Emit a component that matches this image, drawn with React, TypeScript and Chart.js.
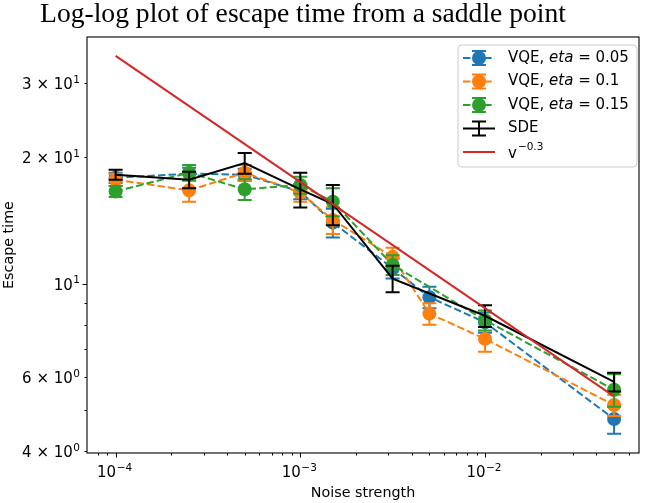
import React, { useEffect, useRef } from "react";
import { Chart, registerables } from "chart.js";

Chart.register(...registerables);

// Noise strengths sampled by the VQE runs (eta = 0.05 and 0.1 include 5e-3)
const noiseFull = [1e-4, 2.5e-4, 5e-4, 1e-3, 1.5e-3, 0.00316, 5e-3, 1e-2, 5e-2];
const noiseShort = [1e-4, 2.5e-4, 5e-4, 1e-3, 1.5e-3, 0.00316, 1e-2, 5e-2];

const vqeEta005 = [17.9, 18.3, 18.2, 16.6, 14.0, 10.9, 9.3, 8.1, 4.77];
const vqeEta005Err = [0.5, 0.6, 0.6, 0.7, 1.1, 0.6, 0.55, 0.45, 0.37];

const vqeEta01 = [17.7, 16.7, 18.4, 16.5, 14.2, 11.6, 8.5, 7.4, 5.15];
const vqeEta01Err = [0.6, 1.0, 0.8, 0.8, 1.05, 0.6, 0.5, 0.5, 0.3];

const vqeEta015 = [16.6, 18.4, 16.8, 17.2, 15.7, 11.1, 8.2, 5.6];
const vqeEta015Err = [0.5, 0.8, 0.95, 0.8, 1.2, 0.6, 0.45, 0.5];

const sde = [18.2, 17.7, 19.4, 16.8, 15.5, 10.3, 8.4, 5.85];
const sdeErr = [0.5, 0.8, 1.1, 1.6, 1.7, 0.75, 0.5, 0.3];

// Power-law guide v^-0.3 (straight on log-log axes)
const guideX = [1e-4, 5e-2];
const guideY = [34.9, 5.4];

// Tick labels as [mantissa part, exponent]
const xMajorTicks = [1e-4, 1e-3, 1e-2];
const xMajorLabels: [string, string][] = [["10", "\u22124"], ["10", "\u22123"], ["10", "\u22122"]];
const xMinorTicks = [8e-5, 9e-5, 2e-4, 3e-4, 4e-4, 5e-4, 6e-4, 7e-4, 8e-4, 9e-4, 2e-3, 3e-3, 4e-3, 5e-3, 6e-3, 7e-3, 8e-3, 9e-3, 2e-2, 3e-2, 4e-2, 5e-2, 6e-2];
const yLabelTicks = [4, 6, 10, 20, 30];
const yLabels: [string, string][] = [["4 \u00D7 10", "0"], ["6 \u00D7 10", "0"], ["10", "1"], ["2 \u00D7 10", "1"], ["3 \u00D7 10", "1"]];
const yMinorTicks = [4, 5, 6, 7, 8, 9, 20, 30];
const yMajorTicks = [10];

const seriesLabels = ["0.05", "0.1", "0.15"];

const X_MIN = 7.35e-5;
const X_MAX = 0.0682;
const Y_MIN = 3.96;
const Y_MAX = 38.7;

const BLUE = "#1f77b4";
const ORANGE = "#ff7f0e";
const GREEN = "#2ca02c";
const RED = "#d62728";
const SANS = "'DejaVu Sans', sans-serif";
const TICK_SIZE = 15;
const SUP_SIZE = 10.5;
const LABEL_SIZE = 14.3;
const LEGEND_SIZE = 15;

const pts = (xs: number[], ys: number[]) => xs.map((x, i) => ({ x, y: ys[i] }));

const errorBars = {
  id: "errorBars",
  beforeDatasetDraw(chart: any, args: any) {
    const ds = chart.data.datasets[args.index];
    if (!ds.errors) return;
    const { ctx } = chart;
    const xs = chart.scales.x;
    const ys = chart.scales.y;
    ctx.save();
    ctx.strokeStyle = ds.borderColor;
    ctx.lineWidth = 2;
    ctx.setLineDash([]);
    ds.data.forEach((p: any, i: number) => {
      const e = ds.errors[i];
      const px = xs.getPixelForValue(p.x);
      const yTop = ys.getPixelForValue(p.y + e);
      const yBot = ys.getPixelForValue(p.y - e);
      ctx.beginPath();
      ctx.moveTo(px, yTop);
      ctx.lineTo(px, yBot);
      ctx.moveTo(px - 7, yTop);
      ctx.lineTo(px + 7, yTop);
      ctx.moveTo(px - 7, yBot);
      ctx.lineTo(px + 7, yBot);
      ctx.stroke();
    });
    ctx.restore();
  },
};

// base text followed by a raised exponent; returns total width
function mathWidth(ctx: CanvasRenderingContext2D, base: string, sup: string) {
  ctx.font = `${TICK_SIZE}px ${SANS}`;
  const bw = ctx.measureText(base).width;
  ctx.font = `${SUP_SIZE}px ${SANS}`;
  const sw = ctx.measureText(sup).width;
  return { bw, sw, total: bw + sw + 0.5 };
}
function drawMath(ctx: CanvasRenderingContext2D, base: string, sup: string, x: number, baseline: number) {
  const { bw } = mathWidth(ctx, base, sup);
  ctx.textAlign = "left";
  ctx.textBaseline = "alphabetic";
  ctx.font = `${TICK_SIZE}px ${SANS}`;
  ctx.fillText(base, x, baseline);
  ctx.font = `${SUP_SIZE}px ${SANS}`;
  ctx.fillText(sup, x + bw + 0.5, baseline - 6.5);
}

const decorations = {
  id: "decorations",
  afterDraw(chart: any) {
    const { ctx, chartArea: a } = chart;
    const xs = chart.scales.x;
    const ys = chart.scales.y;
    ctx.save();

    // frame
    ctx.strokeStyle = "#000";
    ctx.lineWidth = 1.1;
    ctx.setLineDash([]);
    ctx.strokeRect(a.left, a.top, a.right - a.left, a.bottom - a.top);

    // ticks
    ctx.lineWidth = 1;
    const xTick = (v: number, len: number) => {
      const px = Math.round(xs.getPixelForValue(v)) + 0.5;
      ctx.beginPath();
      ctx.moveTo(px, a.bottom);
      ctx.lineTo(px, a.bottom + len);
      ctx.stroke();
    };
    const yTick = (v: number, len: number) => {
      const py = Math.round(ys.getPixelForValue(v)) + 0.5;
      ctx.beginPath();
      ctx.moveTo(a.left, py);
      ctx.lineTo(a.left - len, py);
      ctx.stroke();
    };
    xMajorTicks.forEach((v) => xTick(v, 4.5));
    xMinorTicks.forEach((v) => xTick(v, 2.5));
    yMajorTicks.forEach((v) => yTick(v, 4.5));
    yMinorTicks.forEach((v) => yTick(v, 2.5));

    // tick labels
    ctx.fillStyle = "#000";
    xMajorTicks.forEach((v, i) => {
      const [b, s] = xMajorLabels[i];
      const { total } = mathWidth(ctx, b, s);
      const px = xs.getPixelForValue(v);
      drawMath(ctx, b, s, px - total / 2 - 1, 477);
    });
    yLabelTicks.forEach((v, i) => {
      const [b, s] = yLabels[i];
      const { total } = mathWidth(ctx, b, s);
      const py = ys.getPixelForValue(v);
      drawMath(ctx, b, s, a.left - 7 - total, py + 6);
    });

    // axis titles
    ctx.font = `${LABEL_SIZE}px ${SANS}`;
    ctx.textAlign = "center";
    ctx.textBaseline = "middle";
    ctx.fillText("Noise strength", (a.left + a.right) / 2, 493);
    ctx.save();
    ctx.translate(9, (a.top + a.bottom) / 2);
    ctx.rotate(-Math.PI / 2);
    ctx.fillText("Escape time", 0, 0);
    ctx.restore();

    // title
    const titleText = "Log-log plot of escape time from a saddle point";
    ctx.font = `20px 'Liberation Serif', serif`;
    const w20 = ctx.measureText(titleText).width;
    const size = (20 * 526) / w20;
    ctx.font = `${size}px 'Liberation Serif', serif`;
    ctx.textAlign = "center";
    ctx.textBaseline = "alphabetic";
    ctx.fillText(titleText, 303, 22);

    // legend
    const bx = 458, by = 45, bw = 179, bh = 122, r = 4;
    ctx.beginPath();
    ctx.moveTo(bx + r, by);
    ctx.arcTo(bx + bw, by, bx + bw, by + bh, r);
    ctx.arcTo(bx + bw, by + bh, bx, by + bh, r);
    ctx.arcTo(bx, by + bh, bx, by, r);
    ctx.arcTo(bx, by, bx + bw, by, r);
    ctx.closePath();
    ctx.fillStyle = "rgba(255,255,255,0.8)";
    ctx.fill();
    ctx.strokeStyle = "#cccccc";
    ctx.lineWidth = 1;
    ctx.stroke();

    const rowsY = [58, 81.5, 105, 128.5, 152];
    const hx0 = 463, hx1 = 495, hc = 479, tx = 508;
    const colors = [BLUE, ORANGE, GREEN];
    const errorHandle = (cy: number, color: string) => {
      ctx.strokeStyle = color;
      ctx.lineWidth = 2;
      ctx.setLineDash([]);
      ctx.beginPath();
      ctx.moveTo(hc, cy - 7);
      ctx.lineTo(hc, cy + 7);
      ctx.moveTo(hc - 7, cy - 7);
      ctx.lineTo(hc + 7, cy - 7);
      ctx.moveTo(hc - 7, cy + 7);
      ctx.lineTo(hc + 7, cy + 7);
      ctx.stroke();
    };
    colors.forEach((c, i) => {
      const cy = rowsY[i];
      ctx.strokeStyle = c;
      ctx.lineWidth = 2;
      ctx.setLineDash([7.4, 3.2]);
      ctx.beginPath();
      ctx.moveTo(hx0, cy);
      ctx.lineTo(hx1, cy);
      ctx.stroke();
      errorHandle(cy, c);
      ctx.fillStyle = c;
      ctx.beginPath();
      ctx.arc(hc, cy, 7, 0, Math.PI * 2);
      ctx.fill();

      ctx.fillStyle = "#000";
      ctx.textAlign = "left";
      ctx.textBaseline = "middle";
      let x = tx;
      ctx.font = `${LEGEND_SIZE}px ${SANS}`;
      ctx.fillText("VQE, ", x, cy);
      x += ctx.measureText("VQE, ").width;
      ctx.font = `italic ${LEGEND_SIZE}px ${SANS}`;
      ctx.fillText("eta", x, cy);
      x += ctx.measureText("eta").width;
      ctx.font = `${LEGEND_SIZE}px ${SANS}`;
      ctx.fillText(" = " + seriesLabels[i], x, cy);
    });

    // SDE handle
    const sy = rowsY[3];
    ctx.strokeStyle = "#000";
    ctx.lineWidth = 2;
    ctx.setLineDash([]);
    ctx.beginPath();
    ctx.moveTo(hx0, sy);
    ctx.lineTo(hx1, sy);
    ctx.stroke();
    errorHandle(sy, "#000");
    ctx.fillStyle = "#000";
    ctx.font = `${LEGEND_SIZE}px ${SANS}`;
    ctx.textAlign = "left";
    ctx.textBaseline = "middle";
    ctx.fillText("SDE", tx, sy);

    // guide handle
    const ry = rowsY[4];
    ctx.strokeStyle = RED;
    ctx.beginPath();
    ctx.moveTo(hx0, ry);
    ctx.lineTo(hx1, ry);
    ctx.stroke();
    ctx.fillStyle = "#000";
    ctx.font = `${LEGEND_SIZE}px ${SANS}`;
    ctx.textBaseline = "alphabetic";
    ctx.fillText("v", tx, ry + 6);
    const vw = ctx.measureText("v").width;
    ctx.font = `${SUP_SIZE}px ${SANS}`;
    ctx.fillText("\u22120.3", tx + vw + 1, ry - 2);

    ctx.restore();
  },
};

export default function App() {
  const canvasRef = useRef<HTMLCanvasElement | null>(null);

  useEffect(() => {
    document.body.style.margin = "0";
    const canvas = canvasRef.current;
    if (!canvas) return;

    const vqeStyle = (color: string, order: number) => ({
      borderColor: color,
      backgroundColor: color,
      borderWidth: 2,
      borderDash: [7.4, 3.2],
      pointRadius: 7,
      pointHoverRadius: 7,
      pointBorderWidth: 0,
      pointBackgroundColor: color,
      tension: 0,
      order,
    });

    const chart = new Chart(canvas, {
      type: "line",
      data: {
        datasets: [
          { label: "VQE, eta = 0.05", data: pts(noiseFull, vqeEta005), errors: vqeEta005Err, ...vqeStyle(BLUE, 5) } as any,
          { label: "VQE, eta = 0.1", data: pts(noiseFull, vqeEta01), errors: vqeEta01Err, ...vqeStyle(ORANGE, 4) } as any,
          { label: "VQE, eta = 0.15", data: pts(noiseShort, vqeEta015), errors: vqeEta015Err, ...vqeStyle(GREEN, 3) } as any,
          {
            label: "SDE",
            data: pts(noiseShort, sde),
            errors: sdeErr,
            borderColor: "#000",
            backgroundColor: "#000",
            borderWidth: 2,
            pointRadius: 0,
            tension: 0,
            order: 2,
          } as any,
          {
            label: "v^-0.3",
            data: pts(guideX, guideY),
            borderColor: RED,
            backgroundColor: RED,
            borderWidth: 2,
            pointRadius: 0,
            tension: 0,
            order: 1,
          },
        ],
      },
      options: {
        animation: false,
        responsive: false,
        maintainAspectRatio: false,
        events: [],
        layout: { padding: { top: 37, right: 2, left: 0, bottom: 0 } },
        plugins: {
          legend: { display: false },
          title: { display: false },
          tooltip: { enabled: false },
        },
        scales: {
          x: {
            type: "logarithmic",
            min: X_MIN,
            max: X_MAX,
            afterFit(s: any) {
              s.height = 50;
            },
            ticks: { display: false },
            grid: { display: false },
            border: { display: false },
          },
          y: {
            type: "logarithmic",
            min: Y_MIN,
            max: Y_MAX,
            afterFit(s: any) {
              s.width = 87;
            },
            ticks: { display: false },
            grid: { display: false },
            border: { display: false },
          },
        },
      },
      plugins: [errorBars, decorations],
    });

    return () => chart.destroy();
  }, []);

  return (
    <div style={{ position: "absolute", left: 0, top: 0, width: 646, height: 503, background: "#fff" }}>
      <canvas ref={canvasRef} width={646} height={503} style={{ display: "block" }} />
    </div>
  );
}
